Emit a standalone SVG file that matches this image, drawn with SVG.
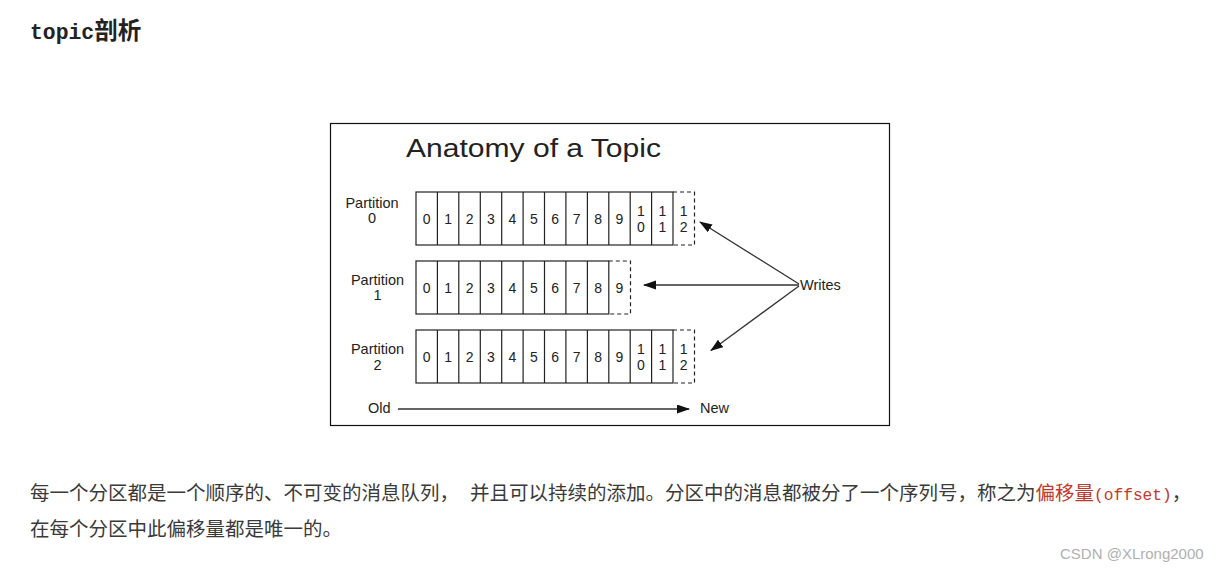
<svg xmlns="http://www.w3.org/2000/svg" width="1222" height="572" viewBox="0 0 1222 572">
<style>
.h{font-family:"Liberation Mono","Noto Sans CJK SC",monospace;font-weight:bold;font-size:21.4px;fill:#222}
.b{font-family:"Noto Sans CJK SC",sans-serif;font-size:19.5px;fill:#3a3a3a}
.m{font-family:"Liberation Mono","Noto Sans CJK SC",monospace;font-size:16.2px}
.red{fill:#c0392b}
.d{font-family:"Liberation Sans",Arial,sans-serif;fill:#222}
.dg{font-size:14px;text-anchor:middle}
.lab{font-size:14.5px;text-anchor:middle}
.cell{fill:#fff;stroke:#222;stroke-width:1.2}
.sep{stroke:#222;stroke-width:1.2}
.dash{fill:none;stroke:#222;stroke-width:1.2;stroke-dasharray:4 3}
.con{stroke:#333;stroke-width:1.3;fill:none}
</style>
<defs>
<marker id="ah" markerUnits="userSpaceOnUse" markerWidth="13" markerHeight="10" refX="12" refY="4.5" orient="auto">
<path d="M0,0 L13,4.5 L0,9 z" fill="#111"/>
</marker>
</defs>
<rect width="1222" height="572" fill="#fff"/>
<g id="heading"><text class="h" x="30" y="39">topic<tspan font-family="Noto Sans CJK SC,sans-serif" font-size="23.5px">剖析</tspan></text></g>
<rect id="frame" x="330.5" y="123.5" width="559" height="302" fill="#fff" stroke="#111" stroke-width="1.2"/>
<g id="title"><text class="d" x="406" y="157" font-size="25.5px" textLength="255" lengthAdjust="spacingAndGlyphs">Anatomy of a Topic</text></g>

<g id="partition0">
<text class="d lab" x="372" y="208">Partition</text>
<text class="d lab" x="372" y="223">0</text>
<rect class="cell" x="416" y="192" width="257" height="53"/>
<path class="sep" d="M437.4,192V245M458.8,192V245M480.3,192V245M501.7,192V245M523.1,192V245M544.5,192V245M565.9,192V245M587.4,192V245M608.8,192V245M630.2,192V245M651.6,192V245"/>
<path class="dash" d="M673,192H694.5V245H673"/>
<g class="d dg">
<text x="426.7" y="223.5">0</text><text x="448.1" y="223.5">1</text><text x="469.6" y="223.5">2</text><text x="491" y="223.5">3</text><text x="512.4" y="223.5">4</text><text x="533.8" y="223.5">5</text><text x="555.2" y="223.5">6</text><text x="576.7" y="223.5">7</text><text x="598.1" y="223.5">8</text><text x="619.5" y="223.5">9</text>
<text x="640.9" y="216">1</text><text x="640.9" y="231.5">0</text>
<text x="662.3" y="216">1</text><text x="662.3" y="231.5">1</text>
<text x="683.7" y="216">1</text><text x="683.7" y="231.5">2</text>
</g>
</g>

<g id="partition1">
<text class="d lab" x="377.5" y="285">Partition</text>
<text class="d lab" x="377.5" y="300">1</text>
<rect class="cell" x="416" y="261" width="192.8" height="53"/>
<path class="sep" d="M437.4,261V314M458.8,261V314M480.3,261V314M501.7,261V314M523.1,261V314M544.5,261V314M565.9,261V314M587.4,261V314"/>
<path class="dash" d="M608.8,261H630.5V314H608.8"/>
<g class="d dg">
<text x="426.7" y="292.5">0</text><text x="448.1" y="292.5">1</text><text x="469.6" y="292.5">2</text><text x="491" y="292.5">3</text><text x="512.4" y="292.5">4</text><text x="533.8" y="292.5">5</text><text x="555.2" y="292.5">6</text><text x="576.7" y="292.5">7</text><text x="598.1" y="292.5">8</text><text x="619.5" y="292.5">9</text>
</g>
</g>

<g id="partition2">
<text class="d lab" x="377.5" y="354">Partition</text>
<text class="d lab" x="377.5" y="370">2</text>
<rect class="cell" x="416" y="330" width="257" height="53"/>
<path class="sep" d="M437.4,330V383M458.8,330V383M480.3,330V383M501.7,330V383M523.1,330V383M544.5,330V383M565.9,330V383M587.4,330V383M608.8,330V383M630.2,330V383M651.6,330V383"/>
<path class="dash" d="M673,330H694.5V383H673"/>
<g class="d dg">
<text x="426.7" y="361.5">0</text><text x="448.1" y="361.5">1</text><text x="469.6" y="361.5">2</text><text x="491" y="361.5">3</text><text x="512.4" y="361.5">4</text><text x="533.8" y="361.5">5</text><text x="555.2" y="361.5">6</text><text x="576.7" y="361.5">7</text><text x="598.1" y="361.5">8</text><text x="619.5" y="361.5">9</text>
<text x="640.9" y="354">1</text><text x="640.9" y="369.5">0</text>
<text x="662.3" y="354">1</text><text x="662.3" y="369.5">1</text>
<text x="683.7" y="354">1</text><text x="683.7" y="369.5">2</text>
</g>
</g>

<g id="writes"><text class="d" x="800" y="290" font-size="14.5px">Writes</text></g>
<g id="old"><text class="d" x="368" y="413" font-size="14.5px">Old</text></g>
<g id="new"><text class="d" x="700" y="413" font-size="14.5px">New</text></g>

<g id="connectors">
<line class="con" x1="799" y1="284" x2="700" y2="222" marker-end="url(#ah)"/>
<line class="con" x1="799" y1="285" x2="644" y2="285" marker-end="url(#ah)"/>
<line class="con" x1="799" y1="286" x2="711" y2="350.5" marker-end="url(#ah)"/>
<line class="con" x1="398" y1="409" x2="689" y2="409" marker-end="url(#ah)"/>
</g>

<g id="body">
<text class="b" x="30" y="500">每一个分区都是一个顺序的、不可变的消息队列，</text>
<text class="b" x="470" y="500">并且可以持续的添加。分区中的消息都被分了一个序列号，称之为<tspan class="red">偏移量</tspan><tspan class="m red">(offset)</tspan>，</text>
<text class="b" x="30" y="535.5">在每个分区中此偏移量都是唯一的。</text>
</g>
<g id="watermark"><text x="1060" y="559" font-family="Liberation Sans,Arial,sans-serif" font-size="15px" fill="#b0b0b0">CSDN @XLrong2000</text></g>
</svg>
